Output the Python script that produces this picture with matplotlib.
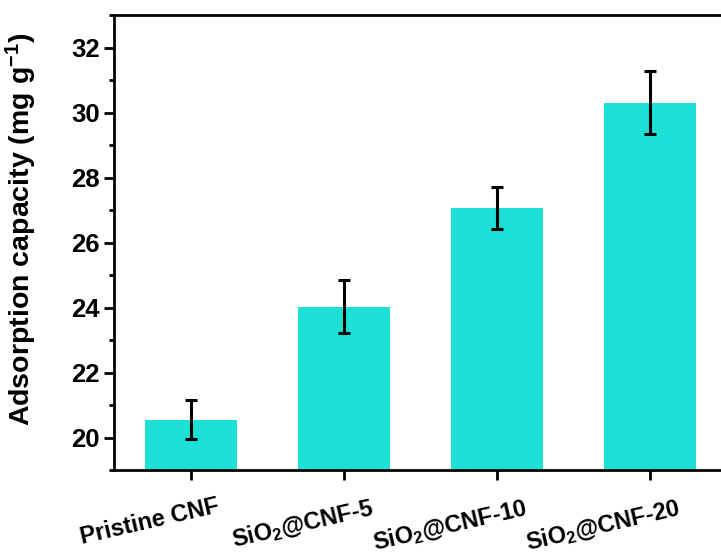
import matplotlib
matplotlib.use("Agg")
import matplotlib.pyplot as plt
from matplotlib.ticker import MultipleLocator
from matplotlib.transforms import ScaledTranslation

plt.rcParams['font.family'] = ['Liberation Sans', 'DejaVu Sans']
plt.rcParams['font.weight'] = 'bold'
plt.rcParams['mathtext.fontset'] = 'custom'
plt.rcParams['mathtext.rm'] = 'Liberation Sans:bold'
plt.rcParams['mathtext.bf'] = 'Liberation Sans:bold'
plt.rcParams['mathtext.it'] = 'Liberation Sans:bold'

categories = ['Pristine CNF', r'SiO$_\mathbf{2}$@CNF-5', r'SiO$_\mathbf{2}$@CNF-10', r'SiO$_\mathbf{2}$@CNF-20']
values = [20.55, 24.03, 27.07, 30.30]
errors = [0.59, 0.82, 0.64, 0.97]
bar_color = '#1CDFD6'

W, H = 721, 555
fig = plt.figure(figsize=(W / 100, H / 100), dpi=100)
ax = fig.add_axes([114 / W, (H - 470) / H, (727 - 114) / W, (470 - 15) / H])

x = list(range(len(categories)))
ax.bar(x, values, width=0.6, color=bar_color, zorder=2)
ax.errorbar(x, values, yerr=errors, fmt='none', ecolor='black', elinewidth=2.2,
            capsize=4.5, capthick=2.2, zorder=3)

ax.set_xlim(-0.5, 3.5)
ax.set_ylim(19, 33)
ax.yaxis.set_major_locator(MultipleLocator(2))
ax.yaxis.set_minor_locator(MultipleLocator(1))
ax.set_yticks([20, 22, 24, 26, 28, 30, 32])
ax.set_xticks(x)
ax.set_xticklabels([''] * len(x))

# rotated category labels, anchored at top-right, shifted right of each tick
off = ScaledTranslation(0.26, -0.25, fig.dpi_scale_trans)
for xi, lab in zip(x, categories):
    ax.text(xi, 0, lab, transform=ax.get_xaxis_transform() + off,
            rotation=13, ha='right', va='top', rotation_mode='anchor',
            fontsize=17, fontweight='bold')

for s in ['left', 'bottom', 'top', 'right']:
    ax.spines[s].set_linewidth(2.0)
ax.spines['right'].set_visible(False)

ax.tick_params(axis='both', which='major', direction='out', length=7, width=2.0)
ax.tick_params(axis='y', which='minor', direction='out', length=3.5, width=2.0)
ax.tick_params(axis='y', which='major', labelsize=18.5, pad=3)
for lbl in ax.get_yticklabels():
    lbl.set_fontweight('bold')

ax.set_ylabel(r'Adsorption capacity (mg g$^{\mathbf{-1}}$)', fontsize=20.5, fontweight='bold')
ax.yaxis.set_label_coords(-0.122, 0.53)

fig.savefig('out.png', dpi=100)
